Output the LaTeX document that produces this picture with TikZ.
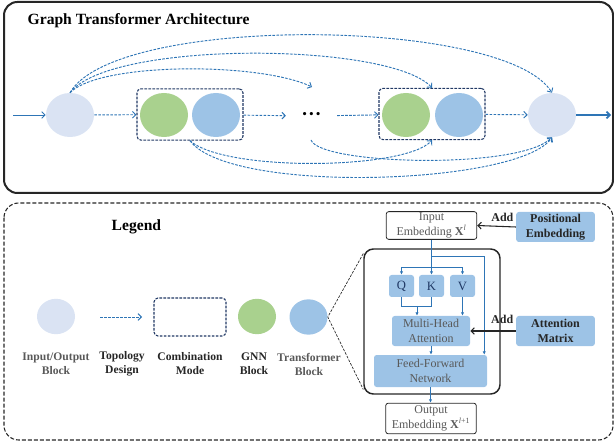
\documentclass[tikz,border=0pt]{standalone}
\usepackage{fontspec}
\setmainfont{Liberation Serif}
\usepackage{xcolor}
\usepackage{tikz}
\usetikzlibrary{arrows.meta,positioning,shapes.geometric}

\definecolor{iofill}{HTML}{DAE3F3}
\definecolor{gnnfill}{HTML}{A9D18E}
\definecolor{tffill}{HTML}{9DC3E6}
\definecolor{linkblue}{HTML}{2E75B6}
\definecolor{combnavy}{HTML}{203864}
\definecolor{txtgray}{HTML}{595959}
\definecolor{txtdark}{HTML}{262626}
\definecolor{qkvnavy}{HTML}{1F3864}

\begin{document}
\begin{tikzpicture}[
  x=0.75pt, y=-0.75pt,
  iob/.style={ellipse, fill=iofill, minimum width=36pt, minimum height=33pt, inner sep=0pt},
  gnn/.style={ellipse, fill=gnnfill, minimum width=36pt, minimum height=33pt, inner sep=0pt},
  tfm/.style={ellipse, fill=tffill, minimum width=36pt, minimum height=33pt, inner sep=0pt},
  small/.style={minimum width=28.5pt, minimum height=26.5pt},
  comb/.style={draw=combnavy, line width=0.8pt, dash pattern=on 2pt off 1pt, rounded corners=3pt, minimum width=79.5pt, minimum height=38.5pt},
  topo/.style={linkblue, line width=0.7pt, dash pattern=on 2pt off 1pt, -{Straight Barb[length=2.5pt,width=5pt]}},
  feed/.style={linkblue, line width=0.6pt, -{Latex[length=2.5pt,width=2.5pt]}},
  addarr/.style={txtdark, line width=0.8pt, -{Straight Barb[length=2.5pt,width=5pt]}},
  emb/.style={draw=txtdark, fill=white, rounded corners=2pt, line width=0.6pt, align=center, text=txtgray, font=\fontsize{9}{11}\selectfont, inner sep=1pt, minimum width=68pt},
  blk/.style={fill=tffill, rounded corners=2pt, align=center, inner sep=1pt, font=\fontsize{9}{11}\selectfont},
  lbl/.style={align=center, font=\bfseries\fontsize{8.7}{10.5}\selectfont}
]
\useasboundingbox (0,0) rectangle (614,445);

% top panel
\draw[txtdark, line width=1.5pt, rounded corners=10pt] (4,2) rectangle (613,193);
\node[anchor=base west, font=\bfseries\fontsize{11.7}{14}\selectfont] (arch) at (23,25) {Graph Transformer Architecture};

\node[iob] (io1) at (70,115) {};
\node[comb] (c1) at (190,114.5) {};
\node[gnn] (g1) at (164,115) {};
\node[tfm] (t1) at (216,115) {};
\node[minimum width=38pt, inner sep=0pt, font=\fontsize{10}{10}\selectfont] (dots) at (311.5,116) {\textbullet\hspace{1.6pt}\textbullet\hspace{1.6pt}\textbullet};
\node[comb] (c2) at (432,114) {};
\node[gnn] (g2) at (406,115) {};
\node[tfm] (t2) at (459,115) {};
\node[iob] (io2) at (552,115) {};

\coordinate (in) at (13,115);
\coordinate (out) at (611,115);
\coordinate (gap) at (312,87);
\coordinate (gapb) at (311,140);

\draw[linkblue, line width=0.7pt, -{Straight Barb[length=2.5pt,width=5pt]}] (in) -- (io1.west);
\draw[topo] (io1) -- (c1);
\draw[topo] (c1) -- (dots);
\draw[topo] (dots) -- (c2);
\draw[topo] (c2) -- (io2);
\draw[linkblue, line width=1.3pt, -{Straight Barb[length=2.5pt,width=5pt]}] (io2.east) -- (out);

\draw[topo] (io1.north) .. controls (100,62) and (260,62) .. (gap);
\draw[topo] (io1.north) .. controls (110,40) and (390,42) .. (c2.north);
\draw[topo] (io1.north) .. controls (115,14) and (505,17) .. (io2.north);
\draw[topo] (c1.south) .. controls (225,172) and (405,170) .. (c2.south);
\draw[topo] (c1.south) .. controls (230,195) and (520,185) .. (io2.south);
\draw[topo] (gapb) .. controls (320,165) and (520,170) .. (io2.south);

% legend panel
\draw[txtdark, line width=0.8pt, dash pattern=on 3pt off 1.5pt, rounded corners=11pt] (4,203) rectangle (613,440);
\node[anchor=base west, font=\bfseries\fontsize{11.7}{14}\selectfont] (legend) at (107,231) {Legend};

\node[iob, small] (lio) at (56,316.5) {};
\coordinate (la) at (100,317);
\coordinate (lb) at (142,317);
\draw[topo] (la) -- (lb);
\node[comb, minimum width=54pt, minimum height=28.5pt] (lcomb) at (190,317) {};
\node[gnn, small] (lgnn) at (257,316.5) {};
\node[tfm, small] (ltf) at (308.5,317) {};

\node[lbl, text=txtgray] (tio) at (56,364) {Input/Output\\Block};
\node[lbl, text=txtdark] (ttopo) at (122,364) {Topology\\Design};
\node[lbl, text=txtdark] (tcomb) at (190,364) {Combination\\Mode};
\node[lbl, text=txtdark] (tgnn) at (254,364) {GNN\\Block};
\node[lbl, text=txtgray] (ttf) at (309,364) {Transformer\\Block};

% transformer block
\node[draw=txtdark, line width=1.1pt, rounded corners=7pt, minimum width=102pt, minimum height=108.75pt] (big) at (432,321.5) {};
\draw[txtdark, line width=0.5pt, dash pattern=on 2pt off 1pt] ([yshift=-4pt]big.north west) -- (ltf.east) -- ([yshift=4pt]big.south west);

\node[emb, minimum height=20.5pt] (inemb) at (431.5,225.5) {Input\\Embedding \textbf{X}\textsuperscript{\textit{l}}};
\node[emb, minimum height=23pt] (outemb) at (431,418.5) {Output\\Embedding \textbf{X}\textsuperscript{\textit{l}+1}};
\node[blk, text=txtdark, font=\bfseries\fontsize{9}{11}\selectfont, minimum width=59pt, minimum height=22.5pt] (pos) at (555.5,227) {Positional\\Embedding};
\node[blk, text=txtdark, font=\bfseries\fontsize{9}{11}\selectfont, minimum width=59pt, minimum height=22.5pt] (att) at (555.5,331) {Attention\\Matrix};

\node[blk, text=qkvnavy, font=\fontsize{9.5}{11}\selectfont, minimum width=18.75pt, minimum height=16.5pt] (q) at (401.5,286) {Q};
\node[blk, text=qkvnavy, font=\fontsize{9.5}{11}\selectfont, minimum width=18.75pt, minimum height=16.5pt] (k) at (431.5,286) {K};
\node[blk, text=qkvnavy, font=\fontsize{9.5}{11}\selectfont, minimum width=18.75pt, minimum height=16.5pt] (v) at (462.5,286) {V};
\node[blk, text=txtgray, minimum width=58.5pt, minimum height=22.5pt] (mha) at (431,331) {Multi-Head\\Attention};
\node[blk, text=txtgray, minimum width=84.75pt, minimum height=24pt] (ffn) at (430.5,371) {Feed-Forward\\Network};

\coordinate (rs) at (431.5,256);
\coordinate (br) at (431.5,267);
\coordinate (qk) at (417,306);

\draw[feed] (inemb.south) -- (k.north);
\draw[feed] (br) -| (q.north);
\draw[feed] (br) -| (v.north);
\draw[feed] (rs) -| ([xshift=-2.25pt]ffn.north east);
\draw[linkblue, line width=0.6pt] (q.south) |- (k.south |- qk) -- (k.south);
\draw[feed] (qk) -- (qk |- mha.north);
\draw[feed] (v.south) -- (v.south |- mha.north);
\draw[feed] (mha.south) -- (mha.south |- ffn.north);
\draw[feed] (ffn.south) -- (ffn.south |- outemb.north);

\draw[addarr] (pos.west) -- node[pos=0.35, above, font=\bfseries\fontsize{9}{11}\selectfont, text=txtdark]{Add} (inemb.east);
\draw[addarr] (att.west) -- node[pos=0.3, above=2pt, font=\bfseries\fontsize{9}{11}\selectfont, text=txtdark]{Add} (mha.east);
\end{tikzpicture}
\end{document}
